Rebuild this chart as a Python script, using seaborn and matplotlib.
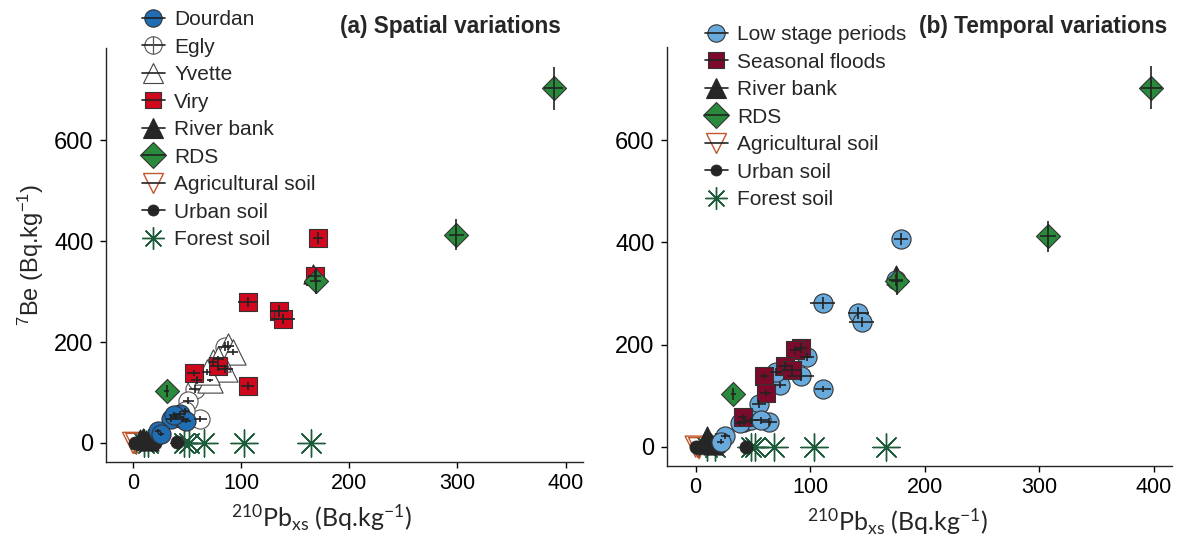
import matplotlib.pyplot as plt
import seaborn as sns
from matplotlib.lines import Line2D
from matplotlib.legend_handler import HandlerTuple

# ---- (a) spatial variations ----
DOURDAN_X = [40, 35, 46, 43, 49, 38, 23, 26]
DOURDAN_Y = [51, 48, 48, 58, 44, 55, 24, 18]
DOURDAN_XERR = [6, 5, 6, 6, 5, 5, 3, 3]
DOURDAN_YERR = [6, 6, 6, 6, 5, 6, 4, 4]

EGLY_X = [85, 57, 51, 62, 59, 48]
EGLY_Y = [191, 107, 84, 48, 124, 64]
EGLY_XERR = [6, 5, 5, 6, 5, 4]
EGLY_YERR = [9, 8, 7, 6, 8, 6]

YVETTE_X = [88, 92, 74, 85, 71, 79, 68]
YVETTE_Y = [193, 181, 160, 147, 124, 166, 141]
YVETTE_XERR = [5, 5, 4, 7, 3, 5, 4]
YVETTE_YERR = [8, 6, 7, 8, 3, 7, 6]

VIRY_X = [171, 168, 106, 135, 139, 106, 56, 79]
VIRY_Y = [407, 330, 280, 262, 245, 112, 139, 152]
VIRY_XERR = [5, 6, 9, 8, 11, 6, 6, 8]
VIRY_YERR = [12, 12, 10, 12, 10, 8, 6, 9]

RDS_A_X = [389, 299, 169, 31]
RDS_A_Y = [703, 413, 321, 102]
RDS_A_XERR = [9, 7, 5, 2]
RDS_A_YERR = [42, 30, 26, 12]

RIVER_A_X = [9, 12, 15, 6, 166]
RIVER_A_Y = [10, 5, 3, 8, 335]
AGRI_A_X = [0, 3]
AGRI_A_Y = [0, -2]
URBAN_A_X = [2, 5, 8, 11, 14, 17, 20, 41]
URBAN_A_Y = [0, 0, 0, 0, 0, 0, 0, 2]
FOREST_A_X = [10, 14, 47, 52, 66, 103, 165]
FOREST_A_Y = [0, 0, 0, 0, 0, 0, 0]

# ---- (b) temporal variations ----
LOW_X = [179, 175, 111, 142, 145, 97, 92, 74, 111, 70, 55, 64, 42, 48, 57, 39, 26, 22]
LOW_Y = [407, 327, 281, 262, 244, 176, 138, 120, 113, 147, 83, 48, 49, 52, 52, 46, 20, 10]
LOW_XERR = [6, 6, 11, 9, 11, 6, 11, 5, 7, 5, 6, 7, 6, 7, 6, 5, 4, 3]
LOW_YERR = [12, 12, 12, 12, 10, 8, 9, 6, 6, 8, 8, 8, 7, 7, 7, 6, 6, 4]

FLOOD_X = [92, 87, 78, 84, 60, 61, 41]
FLOOD_Y = [193, 189, 157, 150, 139, 105, 59]
FLOOD_XERR = [5, 5, 6, 9, 4, 5, 4]
FLOOD_YERR = [10, 8, 8, 9, 6, 6, 5]

RDS_B_X = [398, 308, 176, 33]
RDS_B_Y = [703, 412, 324, 103]
RDS_B_XERR = [9, 7, 5, 2]
RDS_B_YERR = [42, 30, 26, 12]

RIVER_B_X = [10, 13, 15, 7, 175]
RIVER_B_Y = [20, 8, 4, 6, 336]
AGRI_B_X = [0, 3]
AGRI_B_Y = [0, -3]
URBAN_B_X = [0, 3, 6, 9, 12, 15, 18, 21, 44]
URBAN_B_Y = [0, 0, 0, 0, 0, 0, 0, 0, 0]
FOREST_B_X = [10, 17, 48, 52, 68, 103, 166]
FOREST_B_Y = [0, 0, 0, 0, 0, 0, 0]

EDGE = '#333333'
STAR = (8, 2, 0)
STYLES = {
    'Dourdan': dict(marker='o', s=190, fc='#1f6db3', ec=EDGE, lw=0.8),
    'Egly': dict(marker='o', s=190, fc='white', ec='#555555', lw=0.8),
    'Yvette': dict(marker='^', s=330, fc='white', ec='#444444', lw=0.8),
    'Viry': dict(marker='s', s=150, fc='#d0081e', ec=EDGE, lw=0.8),
    'River bank': dict(marker='^', s=190, fc='#262626', ec='#262626', lw=0.8),
    'RDS': dict(marker='D', s=150, fc='#2a8a3c', ec=EDGE, lw=0.8),
    'Agricultural soil': dict(marker='v', s=230, fc='none', ec='#c0562b', lw=1.0),
    'Urban soil': dict(marker='o', s=90, fc='#262626', ec='#262626', lw=0.5),
    'Forest soil': dict(marker=STAR, s=380, fc='#1d5c3a', ec='#1d5c3a', lw=1.0),
    'Low stage periods': dict(marker='o', s=190, fc='#67aadb', ec=EDGE, lw=0.8),
    'Seasonal floods': dict(marker='s', s=150, fc='#7c0a2b', ec=EDGE, lw=0.8),
}
LEGEND_MS = {'Dourdan': 12.5, 'Egly': 12.5, 'Yvette': 15, 'Viry': 11.5, 'River bank': 14,
             'RDS': 13, 'Agricultural soil': 14, 'Urban soil': 8, 'Forest soil': 16,
             'Low stage periods': 12.5, 'Seasonal floods': 11.5}

sns.set_theme(style='ticks')
plt.rcParams['font.family'] = ['Liberation Sans', 'DejaVu Sans']
plt.rcParams['axes.linewidth'] = 1.0
plt.rcParams['xtick.major.size'] = 4
plt.rcParams['ytick.major.size'] = 4
plt.rcParams['xtick.major.width'] = 1.0
plt.rcParams['ytick.major.width'] = 1.0


def draw_group(ax, name, x, y, xerr=None, yerr=None):
    st = STYLES[name]
    if st['marker'] != STAR:
        sns.scatterplot(x=x, y=y, ax=ax, marker=st['marker'], s=st['s'],
                        facecolor=st['fc'], edgecolor=st['ec'], linewidth=st['lw'],
                        zorder=3, legend=False)
    else:
        sns.scatterplot(x=x, y=y, ax=ax, marker=st['marker'], s=st['s'],
                        color=st['fc'], linewidth=st['lw'], zorder=3, legend=False)
    if xerr is not None:
        ax.errorbar(x, y, xerr=xerr, yerr=yerr, fmt='none', ecolor='#222222',
                    elinewidth=1.2, capsize=0, zorder=4)


def legend_handle(name):
    st = STYLES[name]
    ms = LEGEND_MS[name]
    mk = Line2D([], [], linestyle='none', marker=st['marker'], markersize=ms,
                markerfacecolor=st['fc'], markeredgecolor=st['ec'], markeredgewidth=st['lw'])
    if name == 'Forest soil':
        return mk
    ln = Line2D([], [], color='#222222', lw=1.2)
    if name == 'Egly':
        # Egly symbol is drawn as a crossed circle
        vl = Line2D([], [], linestyle='none', marker='|', markersize=ms,
                    markeredgecolor='#555555', markeredgewidth=0.9)
        return (mk, ln, vl)
    return (mk, ln)


def style_axes(ax, label_x, show_ylabel):
    ax.set_xlim(-25, 416)
    ax.set_ylim(-38, 783)
    ax.set_xticks([0, 100, 200, 300, 400])
    ax.set_yticks([0, 200, 400, 600])
    ax.tick_params(axis='x', labelsize=15.5, colors='black', pad=4)
    ax.tick_params(axis='y', labelsize=17, colors='black', pad=5)
    sns.despine(ax=ax)
    ax.set_xlabel(r'$\mathregular{^{210}}$Pb$\mathregular{_{xs}}$ (Bq.kg$\mathregular{^{-1}}$)',
                  fontsize=18, family='Lato')
    ax.xaxis.set_label_coords(label_x, -0.097)
    if show_ylabel:
        ax.set_ylabel(r'$\mathregular{^{7}}$Be (Bq.kg$\mathregular{^{-1}}$)', fontsize=17, labelpad=6)
    else:
        ax.set_ylabel('')


fig = plt.figure(figsize=(12.01, 5.40), dpi=100)
ax1 = fig.add_axes([0.0883, 0.1444, 0.397, 0.7667])
ax2 = fig.add_axes([0.5554, 0.137, 0.4205, 0.776])

# panel (a)
draw_group(ax1, 'Forest soil', FOREST_A_X, FOREST_A_Y)
draw_group(ax1, 'Agricultural soil', AGRI_A_X, AGRI_A_Y)
draw_group(ax1, 'River bank', RIVER_A_X, RIVER_A_Y)
draw_group(ax1, 'Urban soil', URBAN_A_X, URBAN_A_Y)
draw_group(ax1, 'Egly', EGLY_X, EGLY_Y, EGLY_XERR, EGLY_YERR)
draw_group(ax1, 'Yvette', YVETTE_X, YVETTE_Y, YVETTE_XERR, YVETTE_YERR)
draw_group(ax1, 'Dourdan', DOURDAN_X, DOURDAN_Y, DOURDAN_XERR, DOURDAN_YERR)
draw_group(ax1, 'Viry', VIRY_X, VIRY_Y, VIRY_XERR, VIRY_YERR)
draw_group(ax1, 'RDS', RDS_A_X, RDS_A_Y, RDS_A_XERR, RDS_A_YERR)
style_axes(ax1, 0.451, True)

# panel (b)
draw_group(ax2, 'Forest soil', FOREST_B_X, FOREST_B_Y)
draw_group(ax2, 'Agricultural soil', AGRI_B_X, AGRI_B_Y)
draw_group(ax2, 'River bank', RIVER_B_X, RIVER_B_Y)
draw_group(ax2, 'Urban soil', URBAN_B_X, URBAN_B_Y)
draw_group(ax2, 'Low stage periods', LOW_X, LOW_Y, LOW_XERR, LOW_YERR)
draw_group(ax2, 'Seasonal floods', FLOOD_X, FLOOD_Y, FLOOD_XERR, FLOOD_YERR)
draw_group(ax2, 'RDS', RDS_B_X, RDS_B_Y, RDS_B_XERR, RDS_B_YERR)
style_axes(ax2, 0.457, False)

legend_a = ['Dourdan', 'Egly', 'Yvette', 'Viry', 'River bank', 'RDS',
            'Agricultural soil', 'Urban soil', 'Forest soil']
legend_b = ['Low stage periods', 'Seasonal floods', 'River bank', 'RDS',
            'Agricultural soil', 'Urban soil', 'Forest soil']

for names, x0, y0 in [(legend_a, 142 / 1201, 1 - 10 / 540), (legend_b, 705 / 1201, 1 - 25 / 540)]:
    fig.legend([legend_handle(n) for n in names], names, loc='upper left',
               bbox_to_anchor=(x0, y0), frameon=False, fontsize=15,
               handlelength=1.1, handletextpad=0.45, labelspacing=0.41,
               borderpad=0, borderaxespad=0,
               handler_map={tuple: HandlerTuple(ndivide=1, pad=0)})

fig.text(450 / 1201, 1 - 27 / 540, '(a) Spatial variations', fontsize=16.3,
         fontweight='bold', ha='center', va='center')
fig.text(1043 / 1201, 1 - 27 / 540, '(b) Temporal variations', fontsize=16.3,
         fontweight='bold', ha='center', va='center')

fig.savefig('out.png', dpi=100)
